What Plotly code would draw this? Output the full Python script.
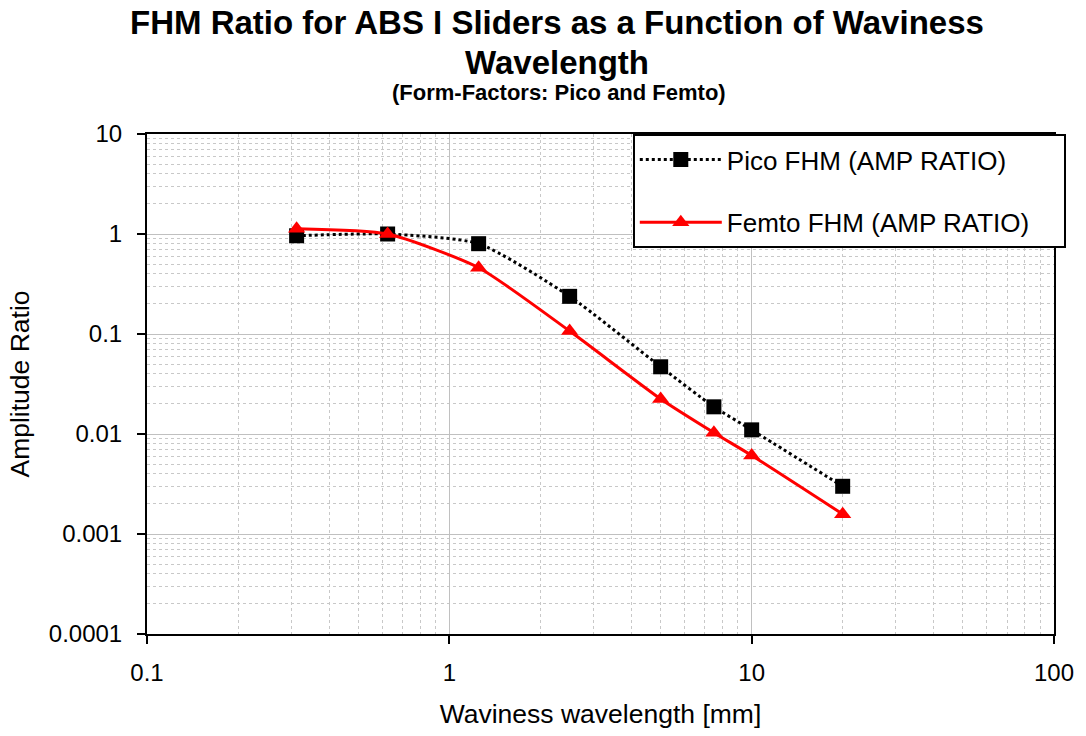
import plotly.graph_objects as go

wavelength_mm = [0.3125, 0.625, 1.25, 2.5, 5, 7.5, 10, 20]
pico_ratio = [0.96, 1.0, 0.80, 0.238, 0.047, 0.0187, 0.011, 0.0030]
femto_ratio = [1.13, 1.0, 0.46, 0.107, 0.0224, 0.0103, 0.0061, 0.00158]

FONT = "Liberation Sans, Arial, sans-serif"
PAD = "\u00a0" * 4

fig = go.Figure()
fig.add_trace(go.Scatter(
    x=wavelength_mm, y=pico_ratio, name="Pico FHM (AMP RATIO)" + PAD,
    mode="lines+markers", legendgroup="pico",
    line=dict(color="black", width=3, dash="dot", shape="spline", smoothing=0.6),
    marker=dict(symbol="square", size=15, color="black"),
))
fig.add_trace(go.Scatter(
    x=wavelength_mm, y=femto_ratio, name="Femto FHM (AMP RATIO)" + PAD,
    mode="lines+markers", legendgroup="femto",
    line=dict(color="#ff0000", width=3, shape="spline", smoothing=0.6),
    marker=dict(symbol="triangle-up", size=15, color="#ff0000"),
))

axis_common = dict(
    type="log",
    showline=True, linecolor="black", linewidth=2, mirror=True,
    ticks="outside", ticklen=8, tickcolor="black", tickwidth=2,
    showgrid=True, gridcolor="#c0c0c0", gridwidth=1,
    tickfont=dict(family=FONT, size=24, color="black"),
    zeroline=False,
    minor=dict(dtick="D1", showgrid=True, gridcolor="#c8c8c8", griddash="3px,3px", gridwidth=1, ticks=""),
)

fig.update_xaxes(
    **axis_common,
    range=[-1, 2],
    ticklabelstandoff=8,
    tickvals=[0.1, 1, 10, 100], ticktext=["0.1", "1", "10", "100"],
    title=dict(text="Waviness wavelength [mm]", font=dict(family=FONT, size=26.5, color="black"), standoff=20),
)
fig.update_yaxes(
    **axis_common,
    range=[-4, 1],
    ticklabelstandoff=10,
    tickvals=[0.0001, 0.001, 0.01, 0.1, 1, 10],
    ticktext=["0.0001", "0.001", "0.01", "0.1", "1", "10"],
    title=dict(text="Amplitude Ratio", font=dict(family=FONT, size=26.5, color="black"), standoff=12),
)

fig.update_layout(
    width=1086, height=736,
    margin=dict(l=147, r=26, t=134, b=100),
    paper_bgcolor="white", plot_bgcolor="white",
    font=dict(family=FONT, color="black"),
    showlegend=True,
    legend=dict(
        x=0.5356, y=1.0, xanchor="left", yanchor="top",
        bgcolor="white", bordercolor="black", borderwidth=2,
        font=dict(family=FONT, size=26, color="black"),
        itemwidth=82, traceorder="grouped", tracegroupgap=26,
    ),
    annotations=[
        dict(text="<b>FHM Ratio for ABS I Sliders as a Function of Waviness</b>",
             xref="paper", yref="paper", x=0.452, y=1.0, yshift=112, xanchor="center", yanchor="middle",
             showarrow=False, font=dict(family=FONT, size=33, color="black")),
        dict(text="<b>Wavelength</b>",
             xref="paper", yref="paper", x=0.452, y=1.0, yshift=72, xanchor="center", yanchor="middle",
             showarrow=False, font=dict(family=FONT, size=33, color="black")),
        dict(text="<b>(Form-Factors: Pico and Femto)</b>",
             xref="paper", yref="paper", x=0.454, y=1.0, yshift=42, xanchor="center", yanchor="middle",
             showarrow=False, font=dict(family=FONT, size=22, color="black")),
    ],
)

fig.write_html("out.html")
